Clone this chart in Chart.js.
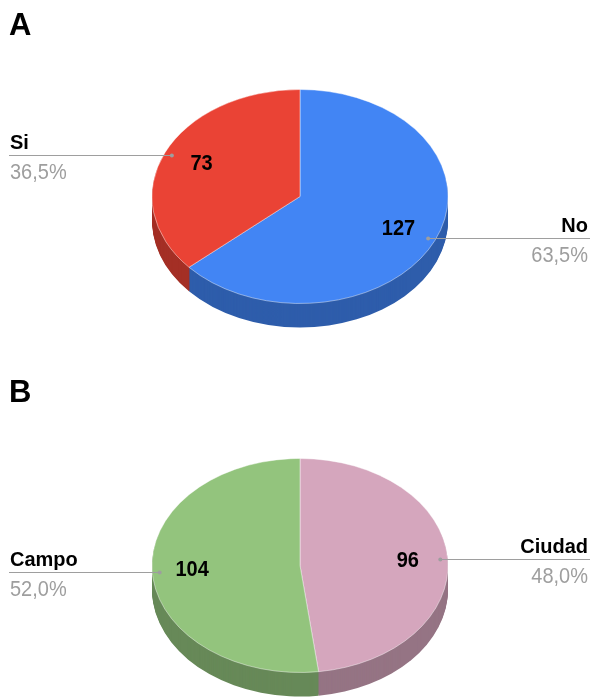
<!DOCTYPE html>
<html>
<head>
<meta charset="utf-8">
<script src="https://cdn.jsdelivr.net/npm/chart.js@4/dist/chart.umd.min.js"></script>
<style>
  body { margin: 0; background: #fff; }
  canvas { display: block; }
</style>
</head>
<body>
<canvas id="chartA" width="592" height="349"></canvas>
<canvas id="chartB" width="592" height="349"></canvas>
<script>
// data
const labelsA = ["No", "Si"];
const valuesA = [127, 73];
const labelsB = ["Ciudad", "Campo"];
const valuesB = [96, 104];

const topColorsA = ["#4285f4", "#ea4335"];
const sideColorsA = ["#2e5dab", "#a42f25"];
const topColorsB = ["#d5a6bd", "#93c47d"];
const sideColorsB = ["#957484", "#678958"];

const depth = 24;
const squash = 107 / 148;

// text in the original is a touch taller than normal
function tallText(ctx, text, x, y, sy) {
    ctx.save();
    ctx.translate(x, y);
    ctx.scale(1, sy);
    ctx.fillText(text, 0, 0);
    ctx.restore();
}

// fake 3D: squash the pie and stack darker copies under it
const pie3d = {
    id: "pie3d",
    beforeDatasetsDraw(chart, args, opts) {
        const ctx = chart.ctx;
        const arcs = chart.getDatasetMeta(0).data;
        const cx = arcs[0].x, cy = arcs[0].y;
        for (let d = depth; d > 0; d--) {
            ctx.save();
            ctx.translate(cx, cy + d);
            ctx.scale(1, squash);
            arcs.forEach((arc, i) => {
                ctx.beginPath();
                ctx.moveTo(0, 0);
                ctx.arc(0, 0, arc.outerRadius, arc.startAngle, arc.endAngle);
                ctx.closePath();
                ctx.fillStyle = opts.sideColors[i];
                ctx.fill();
            });
            ctx.restore();
        }
        ctx.save();
        ctx.translate(cx, cy);
        ctx.scale(1, squash);
        ctx.translate(-cx, -cy);
        arcs.forEach(arc => arc.draw(ctx));
        ctx.restore();
        return false;
    },
    afterDraw(chart, args, opts) {
        const ctx = chart.ctx;
        const arcs = chart.getDatasetMeta(0).data;
        const values = chart.data.datasets[0].data;
        const labels = chart.data.labels;
        const total = values.reduce((a, b) => a + b, 0);
        const font = '"Liberation Sans", Arial, sans-serif';

        ctx.save();
        ctx.fillStyle = "#000";
        ctx.font = "bold 31px " + font;
        ctx.textAlign = "left";
        ctx.textBaseline = "alphabetic";
        ctx.fillText(opts.title, 9, opts.titleY);

        arcs.forEach((arc, i) => {
            const mid = (arc.startAngle + arc.endAngle) / 2;
            const dx = Math.cos(mid), dy = Math.sin(mid) * squash;
            const r = arc.outerRadius;

            ctx.fillStyle = "#000";
            ctx.font = "bold 20px " + font;
            ctx.textAlign = "center";
            ctx.textBaseline = "middle";
            tallText(ctx, values[i], arc.x + dx * r * 0.73, arc.y + dy * r * 0.73, 1.08);

            const px = arc.x + dx * r * 0.95, py = Math.round(arc.y + dy * r * 0.95) + 0.5;
            const right = dx > 0;
            const ex = right ? chart.width - 2 : 9;

            ctx.strokeStyle = "#9e9e9e";
            ctx.lineWidth = 1;
            ctx.beginPath();
            ctx.moveTo(px, py);
            ctx.lineTo(ex, py);
            ctx.stroke();
            ctx.fillStyle = "#9e9e9e";
            ctx.beginPath();
            ctx.arc(px, py, 2, 0, Math.PI * 2);
            ctx.fill();

            const tx = right ? chart.width - 4 : 10;
            ctx.textAlign = right ? "right" : "left";
            ctx.textBaseline = "alphabetic";
            ctx.fillStyle = "#000";
            ctx.font = "bold 20px " + font;
            tallText(ctx, labels[i], tx, py - 7, 1.03);
            ctx.fillStyle = "#9e9e9e";
            ctx.font = "20px " + font;
            const pct = (values[i] / total * 100).toFixed(1).replace(".", ",") + "%";
            tallText(ctx, pct, tx, py + 23, 1.06);
        });
        ctx.restore();
    }
};

function makePie(id, title, titleY, padTop, labels, values, topColors, sideColors) {
    new Chart(document.getElementById(id), {
        type: "pie",
        data: {
            labels: labels,
            datasets: [{
                data: values,
                backgroundColor: topColors,
                borderColor: "rgba(255,255,255,0.5)",
                borderWidth: 1,
                radius: 148
            }]
        },
        options: {
            responsive: false,
            animation: false,
            events: [],
            layout: { padding: { top: padTop, left: 8, right: 0, bottom: 0 } },
            plugins: {
                legend: { display: false },
                tooltip: { enabled: false },
                pie3d: { title: title, titleY: titleY, sideColors: sideColors }
            }
        },
        plugins: [pie3d]
    });
}

makePie("chartA", "A", 35, 44, labelsA, valuesA, topColorsA, sideColorsA);
makePie("chartB", "B", 53, 84, labelsB, valuesB, topColorsB, sideColorsB);
</script>
</body>
</html>
